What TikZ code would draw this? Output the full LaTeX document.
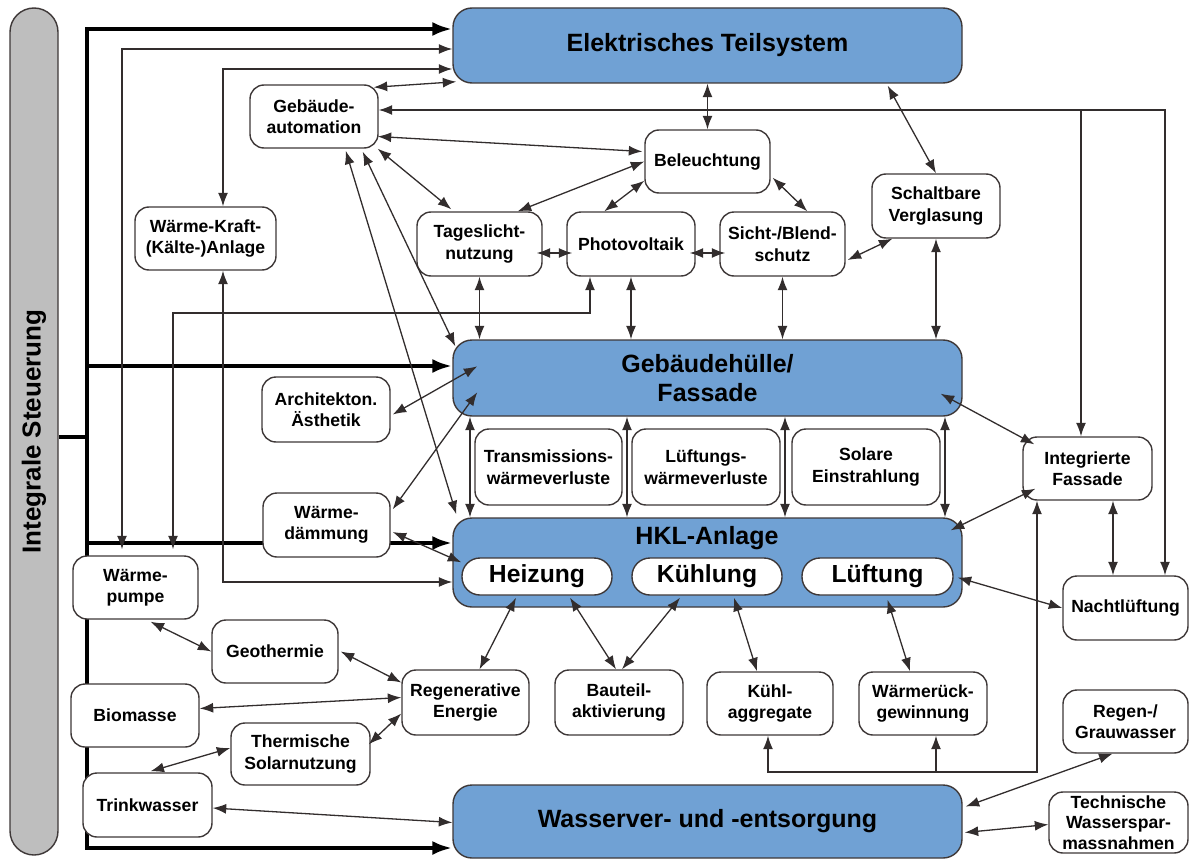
\documentclass[tikz,border=0pt]{standalone}
\usepackage{fontspec}
\setmainfont{Liberation Sans}
\usetikzlibrary{arrows.meta,calc}

\definecolor{boxblue}{RGB}{112,161,212}
\definecolor{bargray}{RGB}{190,190,190}
\definecolor{edge}{RGB}{62,56,56}
\definecolor{wirecol}{RGB}{50,45,45}

\newcommand{\fsmall}{\fontsize{17.6}{21.5}\selectfont\bfseries}
\newcommand{\fbig}{\fontsize{25}{30}\selectfont\bfseries}
\newcommand{\fpill}{\fontsize{24.7}{28}\selectfont\bfseries}
\newcommand{\fbar}{\fontsize{26}{30}\selectfont\bfseries}

\pgfdeclarelayer{back}
\pgfsetlayers{back,main}

\tikzset{
  tipS/.tip={Latex[length=13.5pt,width=10pt]},
  tipL/.tip={Latex[length=20pt,width=14pt]},
  wire/.style={draw=wirecol, line width=1.3pt},
  both/.style={wire, tipS-tipS},
  one/.style={wire, -tipS},
  trunk/.style={draw=black, line width=4pt},
  trunkarrow/.style={trunk, -tipL},
  smallbox/.style={draw=edge, line width=1.4pt, fill=white, rounded corners=14pt,
    align=center, inner sep=0pt, font=\fsmall, text=black},
  bluebox/.style={draw=edge, line width=1.4pt, fill=boxblue, rounded corners=19pt,
    align=center, inner sep=0pt, font=\fbig, text=black},
  pill/.style={draw=edge, line width=1.4pt, fill=white, rounded corners=18pt,
    inner sep=0pt, font=\fpill, text=black},
  sz/.style 2 args={minimum width=#1pt, minimum height=#2pt},
}

\begin{document}
\begin{tikzpicture}[x=1pt,y=-1pt]
\useasboundingbox (0,0) rectangle (1189,859);

% control bar on the left
\node[draw=edge, line width=1.4pt, fill=bargray, rounded corners=24pt, rotate=90,
      minimum width=847pt, minimum height=48pt, inner sep=0pt, font=\fbar]
      (ctrl) at (34,431.5) {Integrale Steuerung};

% main subsystems
\node[bluebox, sz={509}{75}] (ets) at (707.5,45.5) {Elektrisches Teilsystem};
\node[bluebox, sz={509}{76}] (huelle) at (707.5,378) {Gebäudehülle/\\[-1pt]Fassade};
\node[bluebox, sz={509}{89}] (hkl) at (707.5,562.5) {};
\node[font=\fbig, inner sep=0pt] (hkltxt) at (707,538) {HKL-Anlage};
\node[pill, sz={150}{37}] (heiz) at (537,576.5) {Heizung};
\node[pill, sz={150}{37}] (kuehl) at (707,576.5) {Kühlung};
\node[pill, sz={151}{37}] (lueft) at (877.5,576.5) {Lüftung};
\node[bluebox, sz={509}{73}] (wasser) at (707.5,821.5) {Wasserver- und -entsorgung};

% components
\node[smallbox, sz={128}{63}] (gba) at (314,116.5) {Gebäude-\\automation};
\node[smallbox, sz={141}{63}] (wkk) at (205.5,238.5) {Wärme-Kraft-\\(Kälte-)Anlage};
\node[smallbox, sz={125}{63}] (bel) at (707.5,161.5) {Beleuchtung};
\node[smallbox, sz={125}{64}] (tag) at (479.5,244) {Tageslicht-\\nutzung};
\node[smallbox, sz={128}{64}] (pv) at (631,244) {Photovoltaik};
\node[smallbox, sz={125}{64}] (sicht) at (782.5,244) {Sicht-/Blend-\\schutz};
\node[smallbox, sz={128}{64}] (schalt) at (936,206) {Schaltbare\\Verglasung};
\node[smallbox, sz={128}{65}] (arch) at (326,409.5) {Architekton.\\Ästhetik};
\node[smallbox, sz={127}{64}] (wd) at (326.5,525) {Wärme-\\dämmung};
\node[smallbox, sz={147}{76}] (trans) at (548.5,467) {Transmissions-\\wärmeverluste};
\node[smallbox, sz={148}{76}] (lvl) at (706,467) {Lüftungs-\\wärmeverluste};
\node[smallbox, sz={148}{76}] (sol) at (866,467) {Solare\\Einstrahlung};
\node[smallbox, sz={129}{63}] (intf) at (1087.5,468.5) {Integrierte\\Fassade};
\node[smallbox, sz={125}{64}] (nacht) at (1125.5,608) {Nachtlüftung};
\node[smallbox, sz={125}{63}] (wp) at (135.5,587.5) {Wärme-\\pumpe};
\node[smallbox, sz={126}{63}] (geo) at (275,651.5) {Geothermie};
\node[smallbox, sz={128}{63}] (bio) at (135,715.5) {Biomasse};
\node[smallbox, sz={139}{62}] (ths) at (300.5,754) {Thermische\\Solarnutzung};
\node[smallbox, sz={129}{64}] (trink) at (147.5,805) {Trinkwasser};
\node[smallbox, sz={127}{65}] (reg) at (465.5,702.5) {Regenerative\\Energie};
\node[smallbox, sz={128}{65}] (baut) at (619,702.5) {Bauteil-\\aktivierung};
\node[smallbox, sz={126}{63}] (kagg) at (770,703.5) {Kühl-\\aggregate};
\node[smallbox, sz={128}{63}] (wrg) at (923,703.5) {Wärmerück-\\gewinnung};
\node[smallbox, sz={125}{63}] (regen) at (1125.5,721.5) {Regen-/\\Grauwasser};
\node[smallbox, sz={139}{61}, font=\fontsize{17.6}{20.5}\selectfont\bfseries] (tws) at (1118.5,822.5) {Technische\\Wasserspar-\\massnahmen};

% routing points
\coordinate (tTop) at (87,29);
\coordinate (tMid) at (87,437);
\coordinate (tBot) at (87,848);
\coordinate (rowHuelle) at (0,366);
\coordinate (rowHKL) at (0,543);
\coordinate (busWP) at (122,49);
\coordinate (busWKK) at (223,69);
\coordinate (busWKKlow) at (223,582);
\coordinate (busPV) at (173,313);
\coordinate (pvTap) at (590,0);
\coordinate (busGA) at (0,110);
\coordinate (tapIF) at (1081,0);
\coordinate (tapNL) at (1165,0);
\coordinate (lnkIN) at (1113,0);
\coordinate (busBot) at (1037,772);
\coordinate (tapKA) at (768,0);
\coordinate (tapWR) at (936,0);
\coordinate (colA) at (470,0);
\coordinate (colB) at (627,0);
\coordinate (colC) at (785,0);
\coordinate (colD) at (945,0);

% control trunk
\begin{pgfonlayer}{back}
\draw[trunk] (ctrl.south |- tMid) -- (tMid);
\draw[trunk, tipL-tipL] (ets.west |- tTop) -- (tTop) -- (tBot) -- (wasser.west |- tBot);
\draw[trunkarrow] (tTop |- rowHuelle) -- (huelle.west |- rowHuelle);
\draw[trunkarrow] (tTop |- rowHKL) -- (hkl.west |- rowHKL);
\end{pgfonlayer}

% long routed links
\draw[both, shorten >=6pt] (ets.west |- busWP) -- (busWP) -- (busWP |- wp.north);
\draw[both] (ets.west |- busWKK) -- (busWKK) -- (busWKK |- wkk.north);
\draw[both] (busWKK |- wkk.south) -- (busWKKlow) -- (hkl.west |- busWKKlow);
\draw[both, shorten >=6pt] (pvTap |- pv.south) -- (pvTap |- busPV) -- (busPV) -- (busPV |- wp.north);
\draw[both] (gba.east |- busGA) -- (tapNL |- busGA) -- (tapNL |- nacht.north);
\draw[one] (tapIF |- busGA) -- (tapIF |- intf.north);
\draw[both] (tapKA |- kagg.south) -- (tapKA |- busBot) -- (busBot) -- (busBot |- intf.south);
\draw[one] (tapWR |- busBot) -- (tapWR |- wrg.south);

% building automation
\draw[both] ($(gba.north east)+(-5,3)$) -- ($(ets.south west)+(4,-2)$);
\draw[both] ($(gba.east)+(-1,20)$) -- ($(bel.west)+(-2,-10)$);
\draw[both] ($(gba.south east)+(-1,0)$) -- ($(tag.north west)+(35,-2)$);
\draw[both] ($(gba.south east)+(-16,3)$) -- ($(huelle.north west)+(3,7)$);
\draw[both] ($(gba.south east)+(-33,2)$) -- ($(hkl.north west)+(4,-3)$);

% electrical system and daylight group
\draw[both] (bel.north) -- (bel.north |- ets.south);
\draw[both] ($(ets.south east)+(-75,2)$) -- (schalt.north);
\draw[both] (bel.west) -- ($(tag.north east)+(-25,0)$);
\draw[both] ($(bel.south west)+(0,-13)$) -- ($(pv.north west)+(38,0)$);
\draw[both] ($(bel.south east)+(2,-16)$) -- ($(sicht.north west)+(88,0)$);
\draw[both] ($(tag.east)+(-6,9)$) -- ($(pv.west)+(6,9)$);
\draw[both] ($(pv.east)+(-6,9)$) -- ($(sicht.west)+(6,9)$);
\draw[both] ($(sicht.east)+(2,16)$) -- ($(schalt.south west)+(21,0)$);
\draw[both] (tag.south) -- (tag.south |- huelle.north);
\draw[both] (pv.south) -- (pv.south |- huelle.north);
\draw[both] (sicht.south) -- (sicht.south |- huelle.north);
\draw[both] (schalt.south) -- (schalt.south |- huelle.north);

% envelope
\draw[both] ($(arch.east)+(2,5)$) -- ($(huelle.north west)+(25,27)$);
\draw[both] ($(wd.north east)+(2,17)$) -- ($(huelle.north west)+(25,53)$);
\draw[both] ($(wd.east)+(2,7)$) -- ($(hkl.north west)+(9,45)$);
\foreach \c in {colA,colB,colC,colD}
  \draw[both] (huelle.south -| \c) -- (hkl.north -| \c);
\draw[both] ($(huelle.south east)+(-22,-23)$) -- ($(intf.north west)+(12,8)$);
\draw[both] ($(hkl.north east)+(-12,13)$) -- ($(intf.south west)+(13,-12)$);
\draw[both] (lnkIN |- intf.south) -- (lnkIN |- nacht.north);
\draw[both] ($(lueft.east)+(4,1)$) -- (nacht.west);

% HVAC components
\draw[both] ($(heiz.south)+(-21,2)$) -- ($(reg.north)+(14,0)$);
\draw[both] ($(heiz.south)+(33,2)$) -- ($(baut.north)+(-3,0)$);
\draw[both] ($(kuehl.south)+(-27,2)$) -- ($(baut.north)+(3,0)$);
\draw[both] ($(kuehl.south)+(27,2)$) -- ($(kagg.north)+(-13,0)$);
\draw[both] ($(lueft.south)+(10,4)$) -- ($(wrg.north)+(-13,0)$);

% renewable energy sources
\draw[both] ($(wp.south)+(15,2)$) -- (geo.west);
\draw[both] ($(geo.east)+(2,0)$) -- ($(reg.west)+(0,-20)$);
\draw[both] ($(bio.east)+(0,-7)$) -- ($(reg.west)+(0,-5)$);
\draw[both] ($(ths.north east)+(-2,22)$) -- ($(reg.west)+(0,11)$);
\draw[both] ($(ths.west)+(0,-6)$) -- ($(trink.north)+(3,-1)$);

% water supply
\draw[both] ($(trink.east)+(0,3)$) -- ($(wasser.west)+(0,1)$);
\draw[both] ($(wasser.east)+(3,-15)$) -- ($(regen.south)+(-13,0)$);
\draw[both] ($(wasser.east)+(2,11)$) -- ($(tws.west)+(0,2)$);
\end{tikzpicture}
\end{document}
